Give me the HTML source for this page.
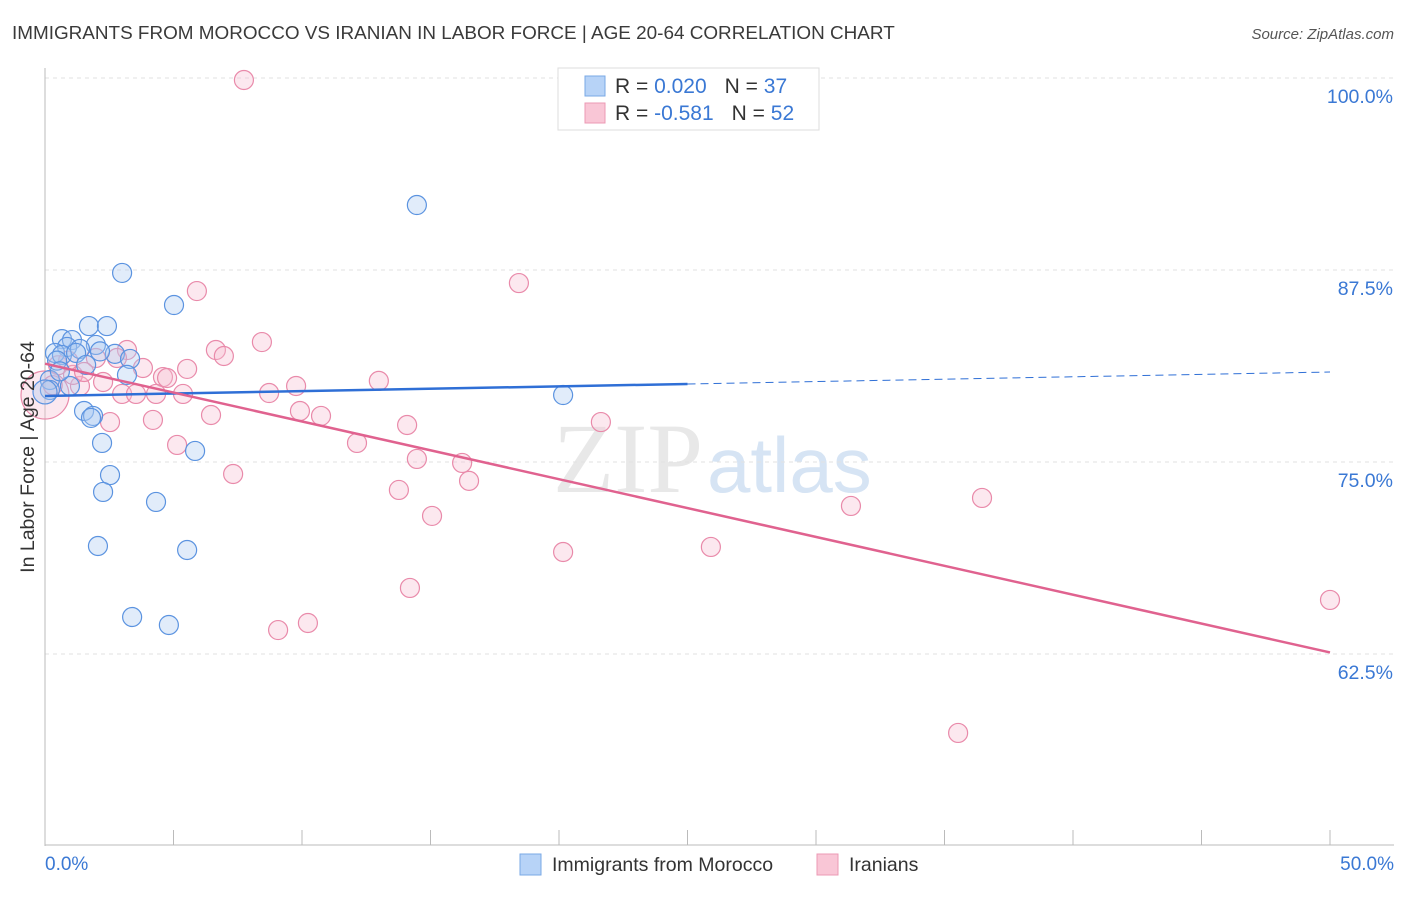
<!DOCTYPE html>
<html><head><meta charset="utf-8"><style>
body{margin:0;background:#fff;font-family:"Liberation Sans",sans-serif;}
</style></head><body>
<svg id="chart" width="1406" height="892" xmlns="http://www.w3.org/2000/svg" style="font-family:'Liberation Sans',sans-serif">
<text x="12" y="39" font-size="18.9" fill="#3a3a3a">IMMIGRANTS FROM MOROCCO VS IRANIAN IN LABOR FORCE | AGE 20-64 CORRELATION CHART</text>
<text x="1394" y="39" font-size="15" fill="#555" text-anchor="end" font-style="italic">Source: ZipAtlas.com</text>
<text x="553" y="492" font-size="100" fill="#e8e8e8" font-family="Liberation Serif">ZIP<tspan fill="#d6e4f4" font-family="Liberation Sans" font-size="78" dx="4">atlas</tspan></text>
<g id="grid"></g><g id="axes"></g><g id="marks"></g>
<text transform="translate(34,457) rotate(-90)" font-size="19.5" fill="#333" text-anchor="middle">In Labor Force | Age 20-64</text>
<g>
<rect x="558" y="68" width="261" height="62" fill="#fff" stroke="#ddd"/>
<rect x="585" y="76" width="20" height="20" fill="#b7d3f7" stroke="#7aa8e6"/>
<text x="615" y="93" font-size="21" fill="#333">R = <tspan fill="#3a78d4">0.020</tspan><tspan dx="18">N = </tspan><tspan fill="#3a78d4">37</tspan></text>
<rect x="585" y="103" width="20" height="20" fill="#f9c6d6" stroke="#ec99b4"/>
<text x="615" y="120" font-size="21" fill="#333">R = <tspan fill="#3a78d4">-0.581</tspan><tspan dx="18">N = </tspan><tspan fill="#3a78d4">52</tspan></text>
</g>
<g>
<rect x="520" y="854" width="21" height="21" fill="#b7d3f7" stroke="#7aa8e6"/>
<text x="552" y="871" font-size="19.5" fill="#333">Immigrants from Morocco</text>
<rect x="817" y="854" width="21" height="21" fill="#f9c6d6" stroke="#ec99b4"/>
<text x="849" y="871" font-size="19.5" fill="#333">Iranians</text>
</g>
</svg>
<script>
const yTicks=[100,87.5,75,62.5];
const yTickLabels=["100.0%","87.5%","75.0%","62.5%"];
const xTickLabels=["0.0%","50.0%"];
const blueX=[14.47,3.00,5.02,1.71,2.41,0.66,1.05,1.98,0.86,1.36,0.39,0.66,1.21,2.72,3.31,1.60,3.19,0.19,0.97,0.19,20.16,1.52,1.87,1.79,2.22,5.84,2.53,2.26,4.32,2.06,5.53,3.39,4.82,0.47,0.0,0.58,2.14];
const blueY=[91.73,87.31,85.22,83.85,83.85,83.0,82.94,82.62,82.49,82.36,82.1,81.97,82.1,82.04,81.71,81.32,80.67,80.34,79.95,79.69,79.36,78.32,78.0,77.87,76.24,75.72,74.15,73.05,72.4,69.53,69.27,64.91,64.39,81.6,79.56,80.9,82.2];
const pinkX=[7.74,18.44,5.91,8.44,6.65,6.96,3.19,2.80,3.81,5.53,4.59,4.75,12.99,9.77,2.26,1.36,0.51,1.09,3.0,3.54,4.32,5.37,8.72,0,9.92,10.74,6.46,4.2,2.53,14.09,21.63,12.14,5.14,14.47,16.23,16.5,7.32,13.77,36.46,31.36,15.06,20.16,25.91,14.2,50.0,10.23,9.07,35.53,1.98,1.52,0.3,0.9];
const pinkY=[99.87,86.65,86.13,82.81,82.29,81.9,82.29,81.77,81.12,81.06,80.53,80.47,80.28,79.95,80.21,79.95,81.3,80.67,79.43,79.43,79.43,79.43,79.49,79.36,78.32,78.0,78.06,77.74,77.6,77.41,77.6,76.24,76.11,75.2,74.94,73.77,74.22,73.18,72.66,72.14,71.49,69.14,69.47,66.8,66.02,64.52,64.06,57.36,81.77,80.86,80.0,81.6];
const blueTrend=[79.3,80.86];
const pinkTrend=[81.4,62.6];
const NS="http://www.w3.org/2000/svg";
const sx=v=>45+v/50*1285;
const sy=v=>78+(100-v)/12.5*192;
function mk(tag,attrs,parent){const e=document.createElementNS(NS,tag);for(const k in attrs)e.setAttribute(k,attrs[k]);parent.appendChild(e);return e;}
const grid=document.getElementById('grid'),axes=document.getElementById('axes'),marks=document.getElementById('marks');
yTicks.forEach((t,i)=>{
 const l=mk('line',{x1:45,x2:1394,y1:sy(t),y2:sy(t),stroke:'#e2e2e2','stroke-dasharray':'4,4'},grid);
 
 
 const tx=mk('text',{x:1393,y:sy(t)+25,'font-size':19.5,fill:'#3a78d4','text-anchor':'end'},axes);
 tx.textContent=yTickLabels[i];
 
 
});
const yax=mk('line',{x1:45,x2:45,y1:68,y2:846,stroke:'#bbb'},axes);


const xax=mk('line',{x1:45,x2:1394,y1:845,y2:845,stroke:'#bbb'},axes);


for(let i=0;i<=10;i++){const t=mk('line',{x1:sx(i*5),x2:sx(i*5),y1:830,y2:845,stroke:'#bbb'},axes);
 
 }
[[0,'start',45],[1,'end',1394]].forEach(([i,a,x])=>{const t=mk('text',{x:x,y:870,'font-size':19,fill:'#3a78d4','text-anchor':a},axes);t.textContent=xTickLabels[i];
 
 });
function dots(xs,ys,fill,stroke,name){xs.forEach((x,i)=>{const r=(x===0&&name==='pink-point')?24:(x===0?12:9.5);
 const c=mk('circle',{cx:sx(x),cy:sy(ys[i]),r:r,fill:fill,'fill-opacity':0.35,stroke:stroke,'stroke-width':1.2},marks);
 
 });}
dots(pinkX,pinkY,'#f7bcd0','#e98aaa','pink-point');
dots(blueX,blueY,'#a9c9f2','#5b93e0','blue-point');
const bl=mk('line',{x1:sx(0),y1:sy(blueTrend[0]),x2:sx(25),y2:sy((blueTrend[0]+blueTrend[1])/2),stroke:'#2f6fd6','stroke-width':2.5},marks);


const bd=mk('line',{x1:sx(25),y1:sy((blueTrend[0]+blueTrend[1])/2),x2:sx(50),y2:sy(blueTrend[1]),stroke:'#2f6fd6','stroke-width':1,'stroke-dasharray':'8,5'},marks);


const pl=mk('line',{x1:sx(0),y1:sy(pinkTrend[0]),x2:sx(50),y2:sy(pinkTrend[1]),stroke:'#e0628f','stroke-width':2.5},marks);


</script>
</body></html>
